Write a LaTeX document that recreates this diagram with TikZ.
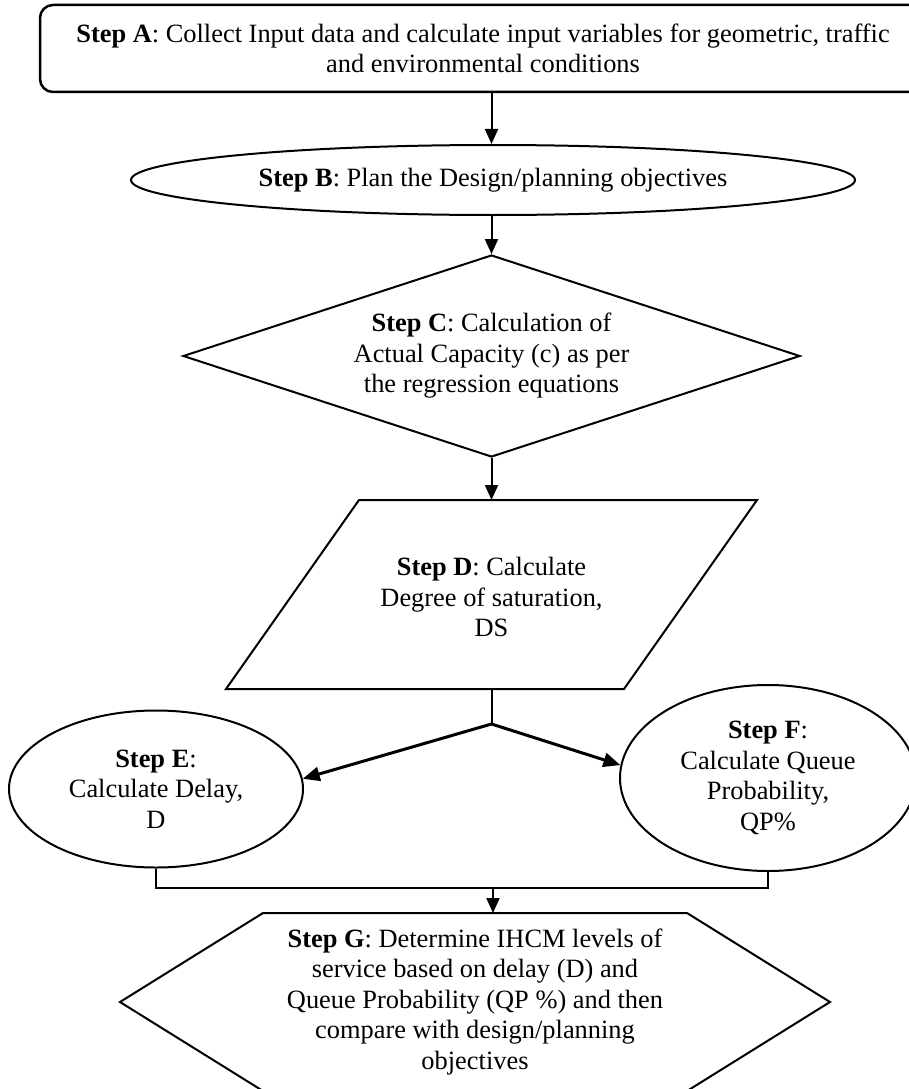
\documentclass[tikz,border=0pt]{standalone}
\usepackage{fontspec}
\setmainfont{Liberation Serif}
\usetikzlibrary{shapes.geometric,arrows.meta}
\begin{document}
\begin{tikzpicture}[x=1pt,y=-1pt,
  every node/.style={font=\fontsize{26.4}{30.5}\selectfont, align=center, inner sep=0pt},
  outline/.style={draw=black, line width=2pt},
  conn/.style={line width=2pt},
  arr/.style={line width=2pt,-{Triangle[length=15pt,width=13pt]}},
  thickarr/.style={line width=3pt,-{Triangle[length=17pt,width=14pt]}},
]
\useasboundingbox (0,0) rectangle (909,1089);
% Step A
\node[draw=black, line width=2.5pt, rounded corners=13pt, minimum width=886pt, minimum height=87pt] (A) at (483,48.5)
  {\textbf{Step A}: Collect Input data and calculate input variables for geometric, traffic\\and environmental conditions};
% Step B
\node[outline, ellipse, minimum width=724pt, minimum height=70pt] (B) at (493,180)
  {\textbf{Step B}: Plan the Design/planning objectives};
% Step C
\node[outline, diamond, minimum width=617pt, minimum height=202pt] (C) at (491.5,356) {};
\node (Ct) at (C) {\textbf{Step C}: Calculation of\\Actual Capacity (c) as per\\the regression equations};
% Step D
\draw[outline] (359,500) -- (757,500) -- (624,689) -- (226,689) -- cycle;
\node (D) at (491.5,597) {\textbf{Step D}: Calculate\\Degree of saturation,\\DS};
\coordinate (Dtop) at (491.5,500);
\coordinate (Dbot) at (491.5,689);
\coordinate (J) at (491.5,724);
% Step E, F
\node[outline, ellipse, minimum width=294pt, minimum height=157pt] (E) at (156,789)
  {\textbf{Step E}:\\Calculate Delay,\\D};
\node[outline, ellipse, minimum width=296pt, minimum height=186pt] (F) at (768,778)
  {\textbf{Step F}:\\Calculate Queue\\Probability,\\QP\%};
% Step G
\draw[outline] (263,913) -- (687,913) -- (830,1002) -- (687,1091) -- (263,1091) -- (120,1002) -- cycle;
\node (G) at (475,1002) {\textbf{Step G}: Determine IHCM levels of\\service based on delay (D) and\\Queue Probability (QP \%) and then\\compare with design/planning\\objectives};
\coordinate (Gtop) at (493,913);
\coordinate (M) at (493,888);
% connectors
\draw[arr] (A.south -| C) -- (B.north -| C);
\draw[arr] (B.south -| C) -- (C.north);
\draw[arr] (C.south) -- (Dtop);
\draw[conn] (Dbot) -- (J);
\draw[thickarr] (J) -- (E.4);
\draw[thickarr] (J) -- (F.175);
\draw[conn] (E.south) |- (M);
\draw[conn] (F.south) |- (M);
\draw[arr] (M) -- (Gtop);
\end{tikzpicture}
\end{document}
